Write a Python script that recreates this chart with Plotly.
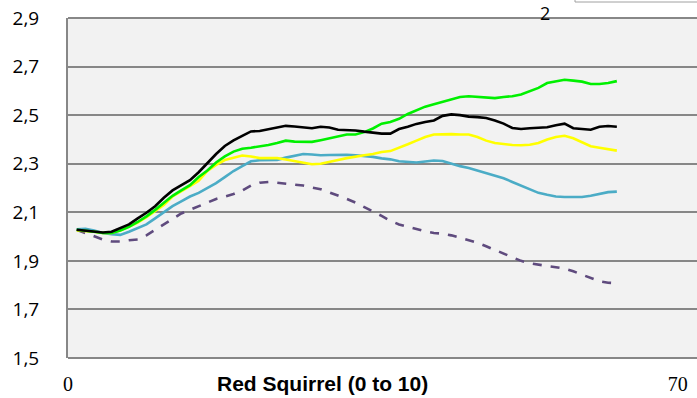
import plotly.graph_objects as go

x_vals = list(range(1, 64))

black = [2.028, 2.024, 2.019, 2.017, 2.02, 2.035, 2.05, 2.075, 2.098, 2.125,
         2.16, 2.19, 2.21, 2.232, 2.265, 2.303, 2.34, 2.373, 2.396, 2.415,
         2.433, 2.435, 2.443, 2.45, 2.456, 2.453, 2.45, 2.446, 2.452, 2.449,
         2.44, 2.44, 2.437, 2.432, 2.427, 2.424, 2.424, 2.443, 2.452, 2.464,
         2.472, 2.478, 2.497, 2.503, 2.5, 2.494, 2.492, 2.488, 2.478, 2.465,
         2.447, 2.443, 2.446, 2.448, 2.45, 2.458, 2.465, 2.446, 2.443, 2.44,
         2.452, 2.455, 2.452]

green = [2.028, 2.025, 2.02, 2.015, 2.015, 2.025, 2.04, 2.06, 2.083, 2.11,
         2.14, 2.168, 2.19, 2.212, 2.245, 2.272, 2.305, 2.33, 2.35, 2.362,
         2.366, 2.37, 2.377, 2.385, 2.395, 2.391, 2.389, 2.39, 2.397, 2.405,
         2.41, 2.42, 2.42, 2.43, 2.445, 2.465, 2.472, 2.485, 2.505, 2.52,
         2.535, 2.545, 2.555, 2.562, 2.575, 2.578, 2.575, 2.57, 2.57, 2.575,
         2.578, 2.585, 2.598, 2.612, 2.632, 2.64, 2.646, 2.642, 2.638, 2.628,
         2.628, 2.632, 2.64]

yellow = [2.025, 2.024, 2.02, 2.015, 2.015, 2.025, 2.04, 2.058, 2.08, 2.105,
          2.13, 2.165, 2.185, 2.208, 2.23, 2.27, 2.295, 2.315, 2.325, 2.334,
          2.33, 2.323, 2.323, 2.323, 2.317, 2.31, 2.302, 2.298, 2.3, 2.306,
          2.315, 2.323, 2.33, 2.335, 2.34, 2.348, 2.352, 2.365, 2.38, 2.395,
          2.41, 2.42, 2.422, 2.422, 2.42, 2.42, 2.41, 2.395, 2.385, 2.38,
          2.377, 2.376, 2.378, 2.385, 2.4, 2.41, 2.415, 2.405, 2.39, 2.372,
          2.366, 2.36, 2.354]

blue = [2.03, 2.032, 2.025, 2.015, 2.01, 2.007, 2.02, 2.035, 2.05, 2.075,
        2.1, 2.125, 2.145, 2.165, 2.18, 2.2, 2.22, 2.245, 2.27, 2.29,
        2.31, 2.314, 2.316, 2.316, 2.325, 2.333, 2.34, 2.338, 2.335, 2.336,
        2.338, 2.337, 2.335, 2.332, 2.328, 2.322, 2.318, 2.31, 2.306, 2.305,
        2.309, 2.313, 2.311, 2.3, 2.29, 2.282, 2.272, 2.262, 2.25, 2.24,
        2.225, 2.21, 2.195, 2.18, 2.172, 2.165, 2.163, 2.163, 2.163, 2.168,
        2.176, 2.183, 2.185]

purple = [2.028, 2.015, 2.0, 1.988, 1.98, 1.98, 1.985, 1.988, 2.005, 2.028,
          2.05, 2.075, 2.095, 2.11, 2.125, 2.14, 2.155, 2.165, 2.175, 2.19,
          2.21, 2.222, 2.225, 2.222, 2.218, 2.213, 2.21, 2.202, 2.195, 2.182,
          2.17, 2.155, 2.14, 2.122, 2.105, 2.085, 2.065, 2.05, 2.04, 2.03,
          2.022, 2.015, 2.012, 2.005, 1.996, 1.987, 1.975, 1.96, 1.945, 1.93,
          1.915, 1.9, 1.89, 1.883, 1.879, 1.874, 1.868, 1.857, 1.843, 1.827,
          1.816, 1.81, 1.808]

y_ticks = [1.5, 1.7, 1.9, 2.1, 2.3, 2.5, 2.7, 2.9]
x_ticks = [0, 70]
x_title = "Red Squirrel (0 to 10)"
legend_fragment = "2"

fig = go.Figure()
series = [
    (purple, "#5F4B7E", "dash"),
    (blue, "#4BACC6", "solid"),
    (yellow, "#FFFF00", "solid"),
    (green, "#00F000", "solid"),
    (black, "#000000", "solid"),
]
for vals, col, dash in series:
    fig.add_trace(go.Scatter(x=x_vals, y=vals, mode="lines",
                             line=dict(color=col, width=2.6, dash=dash),
                             showlegend=False, hoverinfo="skip"))

grid_col = "#878787"
fig.update_layout(
    width=697, height=398,
    margin=dict(l=68, r=0, t=18, b=40),
    paper_bgcolor="white",
    plot_bgcolor="#F2F2F2",
    separators=", ",
    xaxis=dict(range=[0, 72.2], tickvals=x_ticks, ticktext=[str(v) for v in x_ticks],
               showgrid=False, zeroline=False, showline=False, ticks="",
               tickfont=dict(family="Liberation Serif, DejaVu Serif, serif", size=20, color="#000"),
               ticklabelstandoff=12),
    yaxis=dict(range=[1.5, 2.9], tickvals=y_ticks, tickformat=".1f",
               showgrid=True, gridcolor=grid_col, gridwidth=2,
               zeroline=False, showline=True, linecolor=grid_col, linewidth=2,
               ticks="", ticklabelstandoff=23,
               tickfont=dict(family="Open Sans", size=19, color="#000")),
    annotations=[
        dict(text="<b>" + x_title + "</b>", xref="paper", yref="paper",
             x=(322 - 68) / 629, y=-(383 - 358) / 340, xanchor="center", yanchor="middle",
             showarrow=False, font=dict(family="Liberation Sans", size=21, color="#000")),
        dict(text=legend_fragment, xref="paper", yref="paper",
             x=(545 - 68) / 629, y=358 / 340, xanchor="center", yanchor="top",
             borderpad=0, showarrow=False,
             font=dict(family="Open Sans", size=18, color="#000")),
    ],
    shapes=[
        dict(type="rect", xref="paper", yref="paper",
             x0=(575 - 68) / 629, x1=1.2, y0=(358 - 2) / 340, y1=1.3,
             line=dict(color="#A0A0A0", width=1), fillcolor="white"),
        dict(type="line", xref="paper", yref="paper", x0=0, x1=1,
             y0=0, y1=0, line=dict(color=grid_col, width=2)),
        dict(type="line", xref="paper", yref="paper", x0=0, x1=1,
             y0=1, y1=1, line=dict(color=grid_col, width=2)),
    ],
)

fig.write_html("out.html")
